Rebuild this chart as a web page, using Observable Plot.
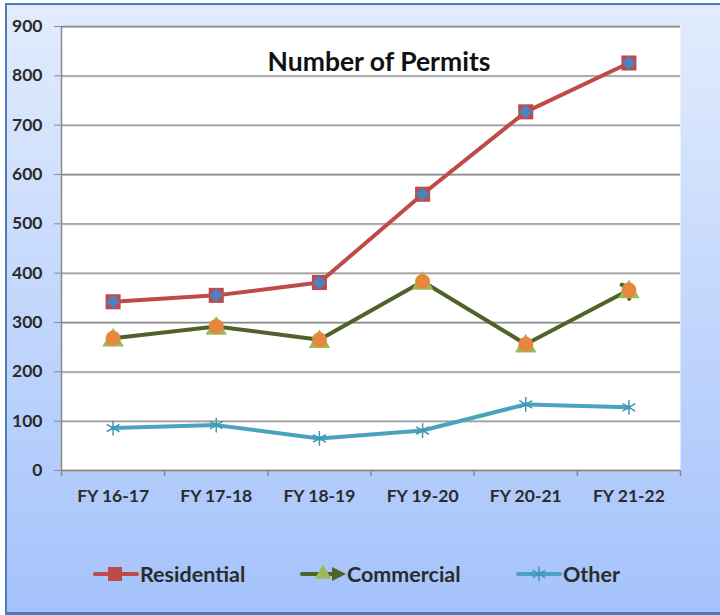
<!DOCTYPE html>
<html>
<head>
<meta charset="utf-8">
<script src="https://cdn.jsdelivr.net/npm/d3@7"></script>
<script src="https://cdn.jsdelivr.net/npm/@observablehq/plot@0.6"></script>
<style>
  html, body { margin: 0; padding: 0; background: #fff; overflow: hidden; }
  #wrap { position: relative; width: 720px; height: 615px; overflow: hidden; font-family: Lato, "DejaVu Sans", sans-serif;
          background: linear-gradient(#e2ecfd, #a4c2fb); }
  #lb { position: absolute; left: 0; top: 0; width: 5px; height: 615px; background: #fff; border-right: 2px solid #4a7ebb; }
  #tb { position: absolute; left: 5px; top: 0; width: 715px; height: 3px; background: #fff; border-bottom: 2px solid #4a7ebb; }
  #bb { position: absolute; left: 5px; top: 612px; width: 715px; height: 3px; background: #4a7ebb; }
  #chart { position: absolute; left: 0; top: 0; }
  #title { position: absolute; left: 0; width: 758px; top: 45px; text-align: center; font-weight: bold; font-size: 26.5px; color: #111; }
  #legend { position: absolute; top: 559px; left: 0; width: 720px; height: 30px; }
  .item { position: absolute; top: 0; display: flex; align-items: center; height: 30px; font-weight: bold; font-size: 21.5px; color: #2b2b2b; }
  .item svg { display: block; margin-right: 1px; }
</style>
</head>
<body>
<div id="wrap">
  <div id="lb"></div>
  <div id="tb"></div>
  <div id="bb"></div>
  <div id="chart"></div>
  <div id="title">Number of Permits</div>
  <div id="legend"></div>
</div>
<script>
const categories = ["FY 16-17", "FY 17-18", "FY 18-19", "FY 19-20", "FY 20-21", "FY 21-22"];
const residential = [342, 355, 381, 560, 727, 826];
const commercial = [268, 292, 265, 383, 256, 366];
const other = [86, 92, 65, 81, 134, 128];
const yTicks = [0, 100, 200, 300, 400, 500, 600, 700, 800, 900];
const seriesNames = ["Residential", "Commercial", "Other"];

const toRows = (vals, name) => vals.map((v, i) => ({i, cat: categories[i], value: v, series: name}));
const resRows = toRows(residential, "Residential");
const comRows = toRows(commercial, "Commercial");
const othRows = toRows(other, "Other");
const boundaries = d3.range(-0.5, categories.length, 1);

const RED = "#be4b48", BLUE = "#4f81bd", DGREEN = "#4f6228", LGREEN = "#9bbb59", ORANGE = "#e5873c", TEAL = "#4aa3bd";

const chart = Plot.plot({
  width: 720,
  height: 615,
  marginTop: 26,
  marginBottom: 145,
  marginLeft: 61,
  marginRight: 40,
  style: {background: "transparent", fontFamily: "Lato, sans-serif", overflow: "visible"},
  x: {type: "linear", domain: [-0.5, categories.length - 0.5], axis: null},
  y: {domain: [0, 900], axis: null},
  marks: [
    Plot.frame({fill: "white", stroke: null}),
    Plot.gridY(yTicks, {stroke: "#d0d0d0", strokeOpacity: 1, strokeWidth: 1, dy: 1}),
    Plot.gridY(yTicks, {stroke: "#8a8a8a", strokeOpacity: 1, strokeWidth: 1.3}),
    Plot.axisY({ticks: yTicks, label: null, tickSize: 7, tickPadding: 12, stroke: "#8a8a8a", fill: "#2b2b2b", fontSize: 17.5, fontWeight: "bold"}),
    Plot.ruleX([-0.5], {stroke: "#8a8a8a", strokeWidth: 1.5}),
    Plot.ruleY([0], {stroke: "#8a8a8a", strokeWidth: 1.5}),
    Plot.axisX({ticks: boundaries, label: null, tickSize: 6, tickFormat: () => "", stroke: "#8a8a8a", strokeWidth: 1.5}),
    Plot.axisX({ticks: d3.range(categories.length), label: null, tickSize: 0, tickPadding: 19, tickFormat: i => categories[i], fill: "#2b2b2b", fontSize: 17.5, fontWeight: "bold"}),
    Plot.line(othRows, {x: "i", y: "value", stroke: TEAL, strokeWidth: 4}),
    Plot.dot(othRows, {x: "i", y: "value", symbol: "asterisk", r: 7, stroke: "#3f97b3", strokeWidth: 1.5}),
    Plot.line(comRows, {x: "i", y: "value", stroke: DGREEN, strokeWidth: 4, markerEnd: "arrow"}),
    Plot.dot(comRows, {x: "i", y: "value", symbol: "triangle", r: 8, fill: LGREEN, dy: 2}),
    Plot.dot(comRows, {x: "i", y: "value", symbol: "circle", r: 7.5, fill: ORANGE}),
    Plot.line(resRows, {x: "i", y: "value", stroke: RED, strokeWidth: 4}),
    Plot.dot(resRows, {x: "i", y: "value", symbol: "square", r: 8.5, fill: RED}),
    Plot.dot(resRows, {x: "i", y: "value", symbol: "diamond2", r: 6.3, fill: BLUE})
  ]
});
document.getElementById("chart").appendChild(chart);

// Legend
const legendDefs = [
  {name: seriesNames[0], left: 93, stroke: RED, marker: "square"},
  {name: seriesNames[1], left: 300, stroke: DGREEN, marker: "arrow"},
  {name: seriesNames[2], left: 516, stroke: TEAL, marker: "asterisk"}
];
const legend = d3.select("#legend");
for (const d of legendDefs) {
  const item = legend.append("div").attr("class", "item").style("left", d.left + "px");
  const svg = item.append("svg").attr("width", 46).attr("height", 30);
  svg.append("line").attr("x1", 2).attr("x2", d.marker === "arrow" ? 34 : 44).attr("y1", 15).attr("y2", 15)
    .attr("stroke", d.stroke).attr("stroke-width", 4).attr("stroke-linecap", "round");
  if (d.marker === "square") {
    svg.append("rect").attr("x", 15).attr("y", 8).attr("width", 14).attr("height", 14).attr("fill", RED);
  } else if (d.marker === "arrow") {
    svg.append("path").attr("d", "M32,8 L46,15 L32,22 Z").attr("fill", DGREEN);
    svg.append("path").attr("d", d3.symbol(d3.symbolTriangle, 120)()).attr("transform", "translate(23,15)").attr("fill", LGREEN);
  } else {
    svg.append("path").attr("d", d3.symbol(d3.symbolAsterisk, 150)()).attr("transform", "translate(23,15)")
      .attr("stroke", "#3f97b3").attr("stroke-width", 1.5).attr("fill", "none");
  }
  item.append("span").text(d.name);
}
</script>
</body>
</html>
